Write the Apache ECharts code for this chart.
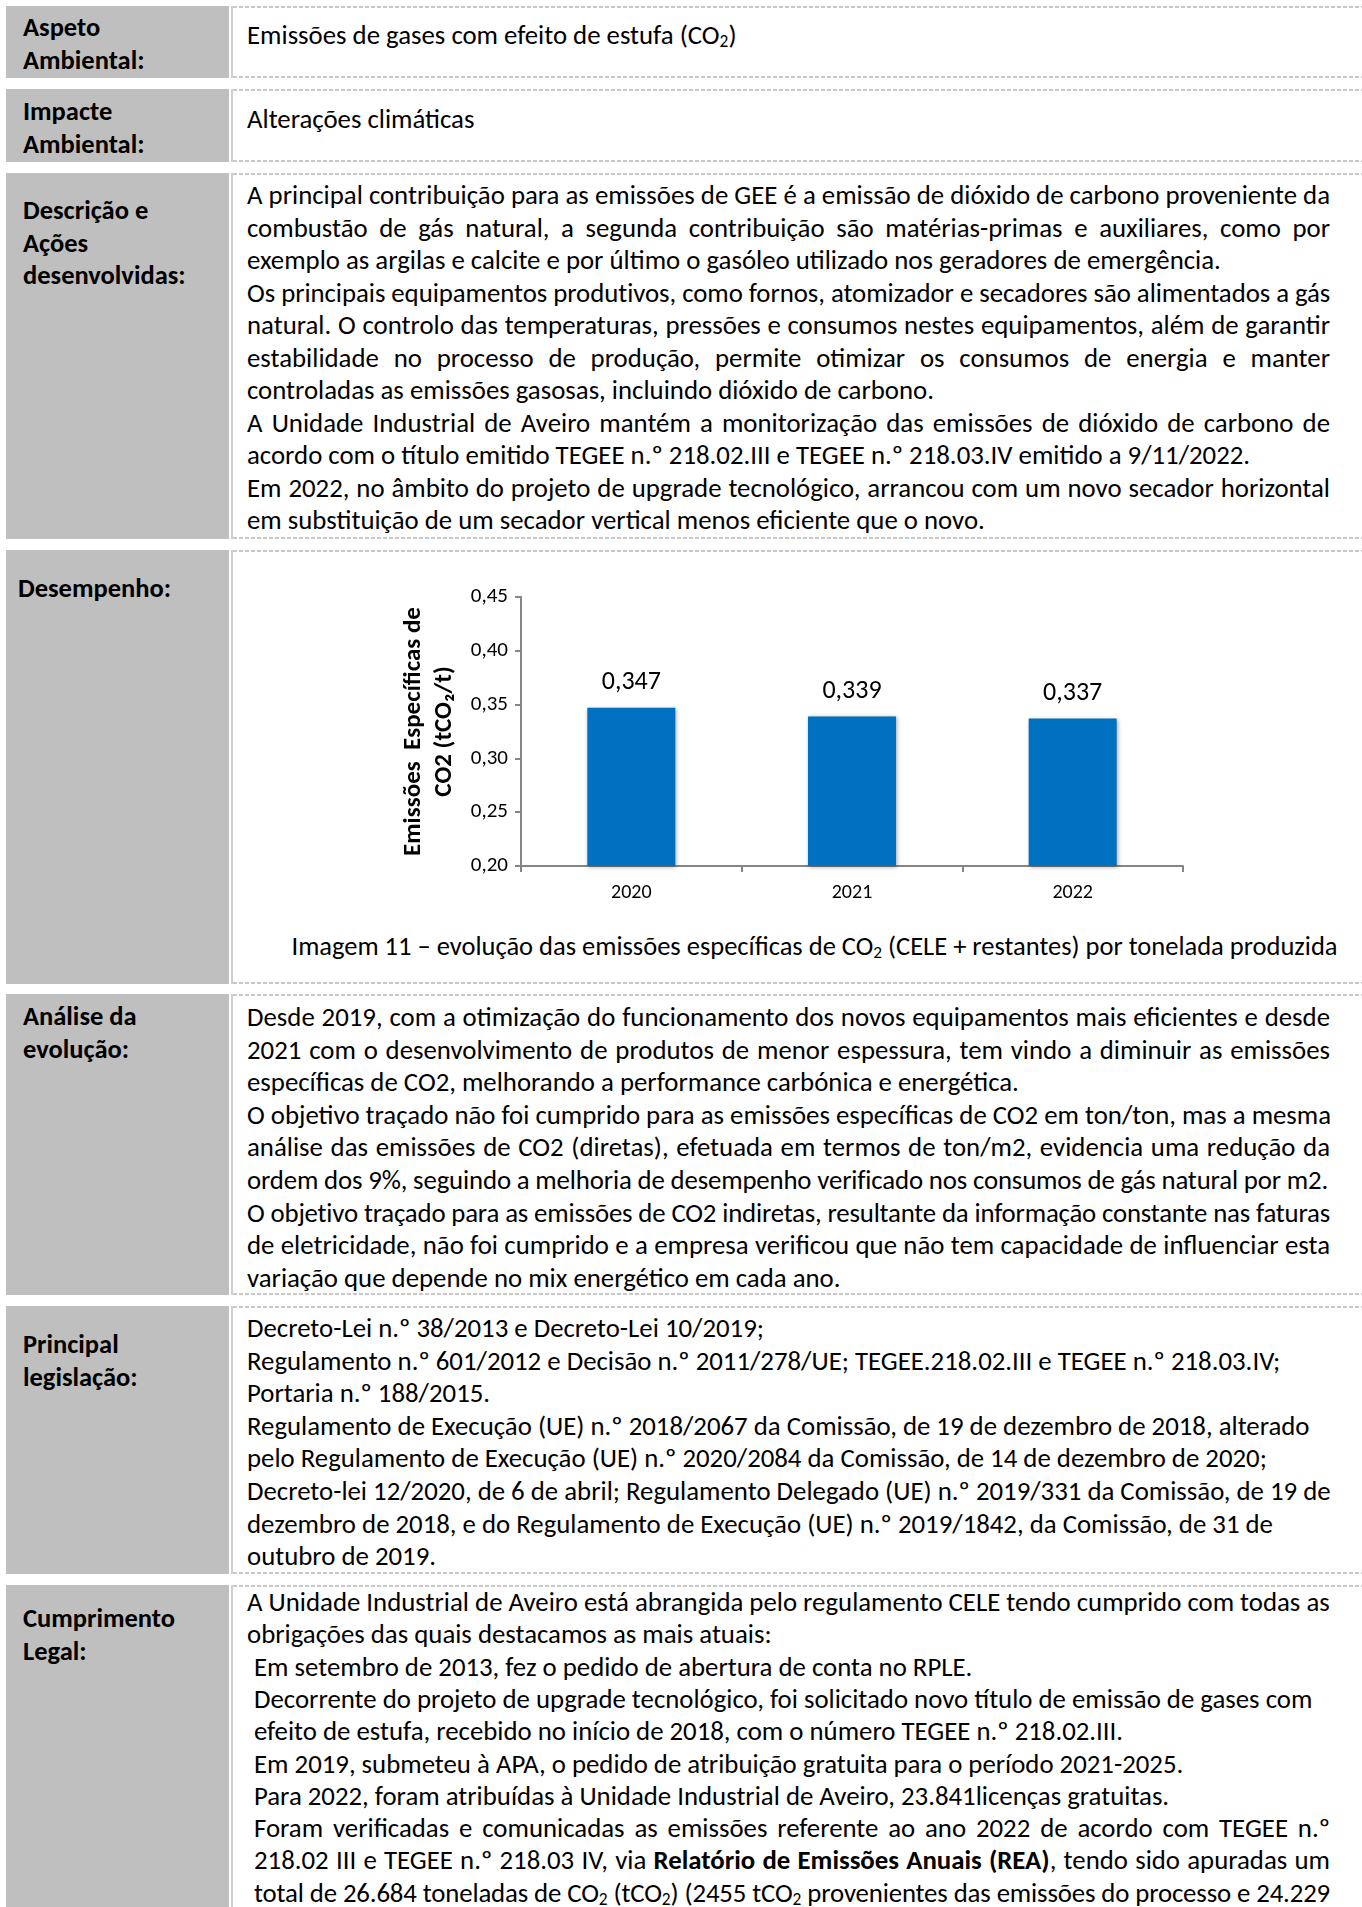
<!DOCTYPE html>
<html><head><meta charset="utf-8">
<script src="https://cdn.jsdelivr.net/npm/echarts@6/dist/echarts.min.js"></script>
<style>
html,body{margin:0;padding:0;background:#fff;}
body{width:1362px;height:1907px;position:relative;overflow:hidden;font-family:Carlito,Calibri,Lato,sans-serif;color:#000;}
.lab{position:absolute;left:6px;width:223px;background:#bfbfbf;}
.vl{position:absolute;left:231px;width:2px;background:#cfcfcf;}
.dot{position:absolute;left:233px;right:0;height:2px;background:repeating-linear-gradient(90deg,#c8c8c8 0 4px,transparent 4px 6px);}
.lt{position:absolute;left:23px;font-weight:bold;font-size:26.5px;line-height:32px;white-space:nowrap;}
.ln{position:absolute;left:247px;width:1083px;height:32px;line-height:32px;font-size:26.8px;white-space:nowrap;}
.ln.j{text-align:justify;text-align-last:justify;}
.cap{position:absolute;left:291px;width:1047px;text-align:center;font-size:26.5px;line-height:32px;white-space:nowrap;}
sub{font-size:0.65em;vertical-align:-0.15em;line-height:0;}
#chart{position:absolute;left:380px;top:560px;width:900px;height:360px;}
</style></head>
<body>
<div id="page"></div>
<div id="chart"></div>
<script>
// ---- chart data ----
const years = ['2020', '2021', '2022'];
const emissions = [0.347, 0.339, 0.337];
const yMin = 0.20, yMax = 0.45, yStep = 0.05;
const yAxisTitle = 'Emissões  Específicas de\nCO2 (tCO₂/t)';

// ---- page text ----
const rows = [
  {top:6, bottom:78, label:['Aspeto','Ambiental:'], labelY:27, lineY:35, step:32.5,
   lines:[['Emissões de gases com efeito de estufa (CO<sub>2</sub>)',0]]},
  {top:89, bottom:162, label:['Impacte','Ambiental:'], labelY:111, lineY:119, step:32.5,
   lines:[['Alterações climáticas',0]]},
  {top:173, bottom:539, label:['Descrição e','Ações','desenvolvidas:'], labelY:210, lineY:195, step:32.5,
   lines:[
    ['A principal contribuição para as emissões de GEE é a emissão de dióxido de carbono proveniente da',1],
    ['combustão de gás natural, a segunda contribuição são matérias-primas e auxiliares, como por',1],
    ['exemplo as argilas e calcite e por último o gasóleo utilizado nos geradores de emergência.',0],
    ['Os principais equipamentos produtivos, como fornos, atomizador e secadores são alimentados a gás',1],
    ['natural. O controlo das temperaturas, pressões e consumos nestes equipamentos, além de garantir',1],
    ['estabilidade no processo de produção, permite otimizar os consumos de energia e manter',1],
    ['controladas as emissões gasosas, incluindo dióxido de carbono.',0],
    ['A Unidade Industrial de Aveiro mantém a monitorização das emissões de dióxido de carbono de',1],
    ['acordo com o título emitido TEGEE n.º 218.02.III e TEGEE n.º 218.03.IV emitido a 9/11/2022.',0],
    ['Em 2022, no âmbito do projeto de upgrade tecnológico, arrancou com um novo secador horizontal',1],
    ['em substituição de um secador vertical menos eficiente que o novo.',0]]},
  {top:550, bottom:984, label:['Desempenho:'], labelY:588, labelX:18, lines:[]},
  {top:994, bottom:1295, label:['Análise da','evolução:'], labelY:1016, lineY:1017, step:32.6,
   lines:[
    ['Desde 2019, com a otimização do funcionamento dos novos equipamentos mais eficientes e desde',1],
    ['2021 com o desenvolvimento de produtos de menor espessura, tem vindo a diminuir as emissões',1],
    ['específicas de CO2, melhorando a performance carbónica e energética.',0],
    ['O objetivo traçado não foi cumprido para as emissões específicas de CO2 em ton/ton, mas a mesma',1],
    ['análise das emissões de CO2 (diretas), efetuada em termos de ton/m2, evidencia uma redução da',1],
    ['ordem dos 9%, seguindo a melhoria de desempenho verificado nos consumos de gás natural por m2.',0],
    ['O objetivo traçado para as emissões de CO2 indiretas, resultante da informação constante nas faturas',1],
    ['de eletricidade, não foi cumprido e a empresa verificou que não tem capacidade de influenciar esta',1],
    ['variação que depende no mix energético em cada ano.',0]]},
  {top:1306, bottom:1574, label:['Principal','legislação:'], labelY:1344, lineY:1328, step:32.6,
   lines:[
    ['Decreto-Lei n.º 38/2013 e Decreto-Lei 10/2019;',0],
    ['Regulamento n.º 601/2012 e Decisão n.º 2011/278/UE; TEGEE.218.02.III e TEGEE n.º 218.03.IV;',0],
    ['Portaria n.º 188/2015.',0],
    ['Regulamento de Execução (UE) n.º 2018/2067 da Comissão, de 19 de dezembro de 2018, alterado',0],
    ['pelo Regulamento de Execução (UE) n.º 2020/2084 da Comissão, de 14 de dezembro de 2020;',0],
    ['Decreto-lei 12/2020, de 6 de abril; Regulamento Delegado (UE) n.º 2019/331 da Comissão, de 19 de',0],
    ['dezembro de 2018, e do Regulamento de Execução (UE) n.º 2019/1842, da Comissão, de 31 de',0],
    ['outubro de 2019.',0]]},
  {top:1585, bottom:1960, label:['Cumprimento','Legal:'], labelY:1618, lineY:1602, step:32.3,
   lines:[
    ['A Unidade Industrial de Aveiro está abrangida pelo regulamento CELE tendo cumprido com todas as',0],
    ['obrigações das quais destacamos as mais atuais:',0],
    ['Em setembro de 2013, fez o pedido de abertura de conta no RPLE.',0,7],
    ['Decorrente do projeto de upgrade tecnológico, foi solicitado novo título de emissão de gases com',0,7],
    ['efeito de estufa, recebido no início de 2018, com o número TEGEE n.º 218.02.III.',0,7],
    ['Em 2019, submeteu à APA, o pedido de atribuição gratuita para o período 2021-2025.',0,7],
    ['Para 2022, foram atribuídas à Unidade Industrial de Aveiro, 23.841licenças gratuitas.',0,7],
    ['Foram verificadas e comunicadas as emissões referente ao ano 2022 de acordo com TEGEE n.º',1,7],
    ['218.02 III e TEGEE n.º 218.03 IV, via <b>Relatório de Emissões Anuais (REA)</b>, tendo sido apuradas um',1,7],
    ['total de 26.684 toneladas de CO<sub>2</sub> (tCO<sub>2</sub>) (2455 tCO<sub>2</sub> provenientes das emissões do processo e 24.229',1,7]]}
];
const caption = 'Imagem 11 – evolução das emissões específicas de CO<sub>2</sub> (CELE + restantes) por tonelada produzida';

const page = document.getElementById('page');
let html = '';
rows.forEach(r => {
  const h = r.bottom - r.top;
  html += `<div class="lab" style="top:${r.top}px;height:${h}px"></div>`;
  html += `<div class="vl" style="top:${r.top}px;height:${h}px"></div>`;
  html += `<div class="dot" style="top:${r.top}px"></div>`;
  html += `<div class="dot" style="top:${r.bottom-2}px"></div>`;
  r.label.forEach((t, i) => {
    html += `<div class="lt" style="left:${r.labelX||23}px;top:${r.labelY - 16 + i*32.5}px">${t}</div>`;
  });
  r.lines.forEach((l, i) => {
    const ind = l[2] || 0;
    html += `<div class="ln${l[1] ? ' j' : ''}" style="left:${247+ind}px;width:${1083-ind}px;top:${r.lineY - 16 + i*r.step}px">${l[0]}</div>`;
  });
});
html += `<div class="cap" style="top:930px">${caption}</div>`;
page.innerHTML = html;

// compress lines that overflow the column
document.querySelectorAll('.ln, .cap').forEach(el => {
  let ls = 0;
  while (el.scrollWidth > el.clientWidth + 1 && ls > -3) {
    ls -= 0.05;
    el.style.letterSpacing = ls + 'px';
  }
});

const fmt = (v, d) => v.toFixed(d).replace('.', ',');
const chart = echarts.init(document.getElementById('chart'), null, {renderer: 'canvas'});
const FONT = 'Carlito, Calibri, Lato, sans-serif';
chart.setOption({
  animation: false,
  grid: {left: 141, top: 37, width: 662, height: 269, containLabel: false},
  xAxis: {
    type: 'category', data: years, boundaryGap: true,
    axisLine: {lineStyle: {color: '#868686', width: 2}},
    axisTick: {show: true, alignWithLabel: false, length: 6, lineStyle: {color: '#868686', width: 2}},
    axisLabel: {color: '#000', fontSize: 20, fontFamily: FONT, margin: 17}
  },
  yAxis: {
    type: 'value', min: yMin, max: yMax, interval: yStep,
    splitLine: {show: false},
    axisLine: {show: true, lineStyle: {color: '#868686', width: 2}},
    axisTick: {show: true, length: 6, lineStyle: {color: '#868686', width: 2}},
    axisLabel: {color: '#000', fontSize: 21, fontFamily: FONT, margin: 13, formatter: v => fmt(v, 2)},
    name: yAxisTitle, nameLocation: 'middle', nameRotate: 90, nameGap: 52,
    nameTextStyle: {color: '#000', fontSize: 25, fontWeight: 'bold', fontFamily: FONT, lineHeight: 31}
  },
  series: [{
    type: 'bar', data: emissions, barWidth: 88,
    itemStyle: {color: '#0070c0', shadowBlur: 4, shadowColor: 'rgba(0,0,0,0.35)', shadowOffsetX: 1, shadowOffsetY: 1},
    label: {show: true, position: 'top', distance: 12, color: '#000', fontSize: 26, fontFamily: FONT,
            formatter: p => fmt(p.value, 3)}
  }]
});
</script>
</body></html>
